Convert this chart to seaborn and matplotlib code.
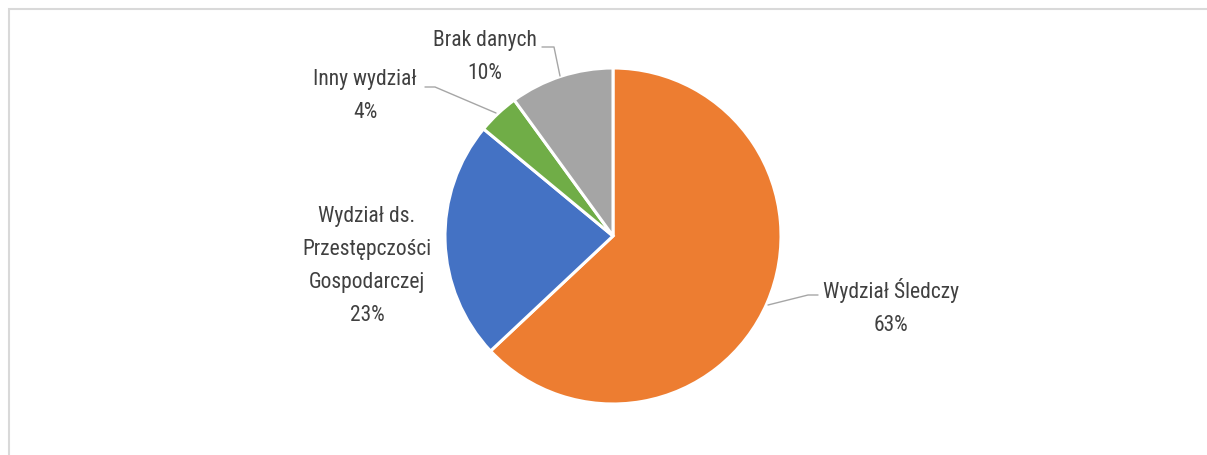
import matplotlib
matplotlib.use("Agg")
import matplotlib.pyplot as plt
from matplotlib import font_manager
from matplotlib.patches import Rectangle
import seaborn as sns

# Data
categories = ["Wydział Śledczy",
              "Wydział ds.\nPrzestępczości\nGospodarczej",
              "Inny wydział",
              "Brak danych"]
shares = [63, 23, 4, 10]
colors = ["#ED7D31", "#4472C4", "#70AD47", "#A5A5A5"]

sns.set_theme(style="white")

available = {f.name for f in font_manager.fontManager.ttflist}
family = "DejaVu Sans"
stretch = "condensed"
for cand in ["Liberation Sans Narrow", "Roboto Condensed", "Open Sans Condensed"]:
    if cand in available:
        family = cand
        stretch = "normal"
        break
plt.rcParams["font.family"] = [family, "DejaVu Sans"]

W, H = 1207, 456
fig = plt.figure(figsize=(W / 100, H / 100), dpi=100)
ax = fig.add_axes([0, 0, 1, 1])
ax.set_xlim(0, W)
ax.set_ylim(0, H)
ax.set_aspect("equal")
ax.axis("off")

# chart frame (top and left edges visible)
ax.add_patch(Rectangle((9, -20), W + 20, H - 10 + 20, fill=False,
                       edgecolor="#d9d9d9", linewidth=1.5, clip_on=False))

cx, cy, r = 613, H - 237, 168
wedges, _ = ax.pie(shares, colors=colors, startangle=90, counterclock=False,
                   center=(cx, cy), radius=r, frame=True,
                   wedgeprops=dict(edgecolor="white", linewidth=2.2))
ax.set_xlim(0, W)
ax.set_ylim(0, H)
ax.axis("off")

txt = dict(color="#404040", fontsize=15.5, ha="center", va="center",
           fontstretch=stretch, linespacing=1.75)


def y(v):
    return H - v


labels = [f"{c}\n{s}%" for c, s in zip(categories, shares)]
ax.text(891, y(307), labels[0], **txt)
ax.text(367, y(266), labels[1], **txt)
ax.text(365, y(96), labels[2], **txt)
ax.text(485, y(57), labels[3], **txt)

lc = dict(color="#A6A6A6", linewidth=1.0)
ax.plot([768, 808, 818], [y(306), y(296), y(296)], **lc)
ax.plot([425, 435, 496], [y(88), y(88), y(114)], **lc)
ax.plot([542, 554, 560], [y(48), y(48), y(77)], **lc)

fig.savefig("out.png", dpi=100)
